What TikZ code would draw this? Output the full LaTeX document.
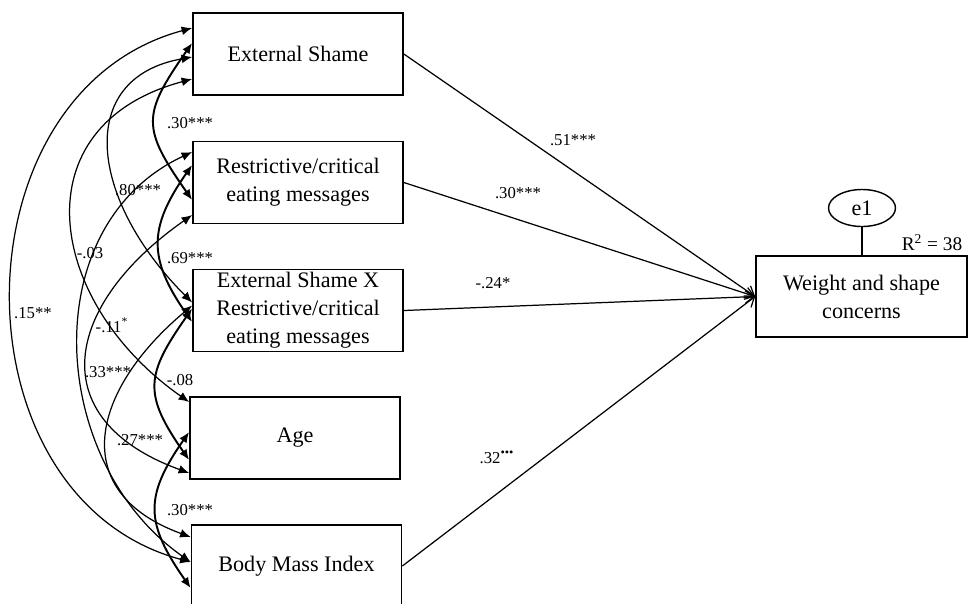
\documentclass[tikz,border=0pt]{standalone}
\usepackage{fontspec}
\setmainfont{Liberation Serif}
\usetikzlibrary{calc,arrows.meta,shapes.geometric}

\tikzset{
    varbox/.style={
        draw, rectangle, line width=1pt,
        minimum width=4.2cm, minimum height=1.64cm,
        inner sep=0pt, align=center,
        font=\fontsize{12.6}{16}\selectfont
        },
    coef/.style={inner sep=1pt, font=\fontsize{9.5}{11}\selectfont},
    regline/.style={line width=0.7pt, -{Straight Barb[length=5pt,width=7pt]}},
    corr/.style={line width=0.7pt,
        {Latex[length=6pt,width=5pt]}-{Latex[length=6pt,width=5pt]}},
    corrbold/.style={corr, line width=1.1pt}
}

\begin{document}
\begin{tikzpicture}[x=0.02cm,y=0.02cm]
\useasboundingbox (0,-603) rectangle (970,0);

% predictors
\node[varbox] (es)  at (298,-54)    {External Shame};
\node[varbox] (rc)  at (298,-182.5) {Restrictive/critical\\eating messages};
\node[varbox] (ex)  at (298,-310.5) {External Shame X\\Restrictive/critical\\eating messages};
\node[varbox] (age) at (295,-438)   {Age};
\node[varbox] (bmi) at (296.5,-566) {Body Mass Index};

% outcome
\node[varbox, minimum width=4.22cm, minimum height=1.62cm] (wsc) at (861.5,-296.5) {Weight and shape\\concerns};
\node[draw, ellipse, line width=0.8pt, minimum width=1.34cm, minimum height=0.74cm,
    inner sep=0pt, font=\fontsize{12.6}{16}\selectfont] (e1) at (862,-208) {e1};
\draw[line width=0.8pt] (e1.south) -- (e1.south |- wsc.north);
\node[inner sep=0pt, font=\fontsize{11}{13}\selectfont] (rsq) at (932,-243) {R\textsuperscript{2} = 38};

% paths
\draw[regline] (es.east)  -- (wsc.west);
\draw[regline] (rc.east)  -- (wsc.west);
\draw[regline] (ex.east)  -- (wsc.west);
\draw[regline] (bmi.east) -- (wsc.west);
\node[coef] (b1) at (573,-140) {.51***};
\node[coef] (b2) at (518,-193) {.30***};
\node[coef] (b3) at (493,-283) {-.24*};
\node[coef] (b4) at (497,-457) {.32\textsuperscript{\fontsize{7}{8}\selectfont •••}};

% correlations, neighbours
\draw[corrbold] ($(es.west)+(0,11)$)    .. controls +(235:88) and +(125:88) .. ($(rc.west)+(0,-17.5)$);
\draw[corrbold] ($(rc.west)+(0,17.5)$)  .. controls +(235:77) and +(125:77) .. ($(ex.west)+(0,-11.5)$);
\draw[corrbold] ($(ex.west)+(0,2)$)     .. controls +(235:81) and +(125:81) .. ($(age.west)+(0,-22)$);
\draw[corrbold] ($(age.west)+(0,6)$)    .. controls +(235:79) and +(125:79) .. ($(bmi.west)+(0,-22)$);
\node[coef] (c1) at (190,-123) {.30***};
\node[coef] (c2) at (190,-258) {.69***};
\node[coef] (c3) at (180,-380) {-.08};
\node[coef] (c4) at (190,-510) {.30***};

% correlations, wider
\draw[corr] ($(es.west)+(0,26)$)   .. controls +(195:248) and +(165:248) .. ($(bmi.west)+(0,4)$);
\draw[corr] ($(es.west)+(0,-3)$)   .. controls +(190:120) and +(135:145) .. ($(ex.west)+(0,8)$);
\draw[corr] ($(es.west)+(0,-25)$)  .. controls +(195:180) and +(145:174) .. ($(age.west)+(0,36)$);
\draw[corr] ($(rc.west)+(0,-32.5)$) .. controls +(215:157) and +(160:157) .. ($(age.west)+(0,-35)$);
\draw[corr] ($(rc.west)+(0,30.5)$) .. controls +(205:174) and +(145:174) .. ($(bmi.west)+(0,4)$);
\draw[corr] ($(ex.west)+(0,5)$)    .. controls +(220:132) and +(160:132) .. ($(bmi.west)+(0,29)$);
\node[coef] (c5)  at (33,-313)  {.15**};
\node[coef] (c6)  at (138,-190) {.80***};
\node[coef] (c7)  at (90,-253)  {-.03};
\node[coef] (c8)  at (112,-325) {-.11\textsuperscript{*}};
\node[coef] (c9)  at (108,-372) {.33***};
\node[coef] (c10) at (140,-440) {.27***};
\end{tikzpicture}
\end{document}
